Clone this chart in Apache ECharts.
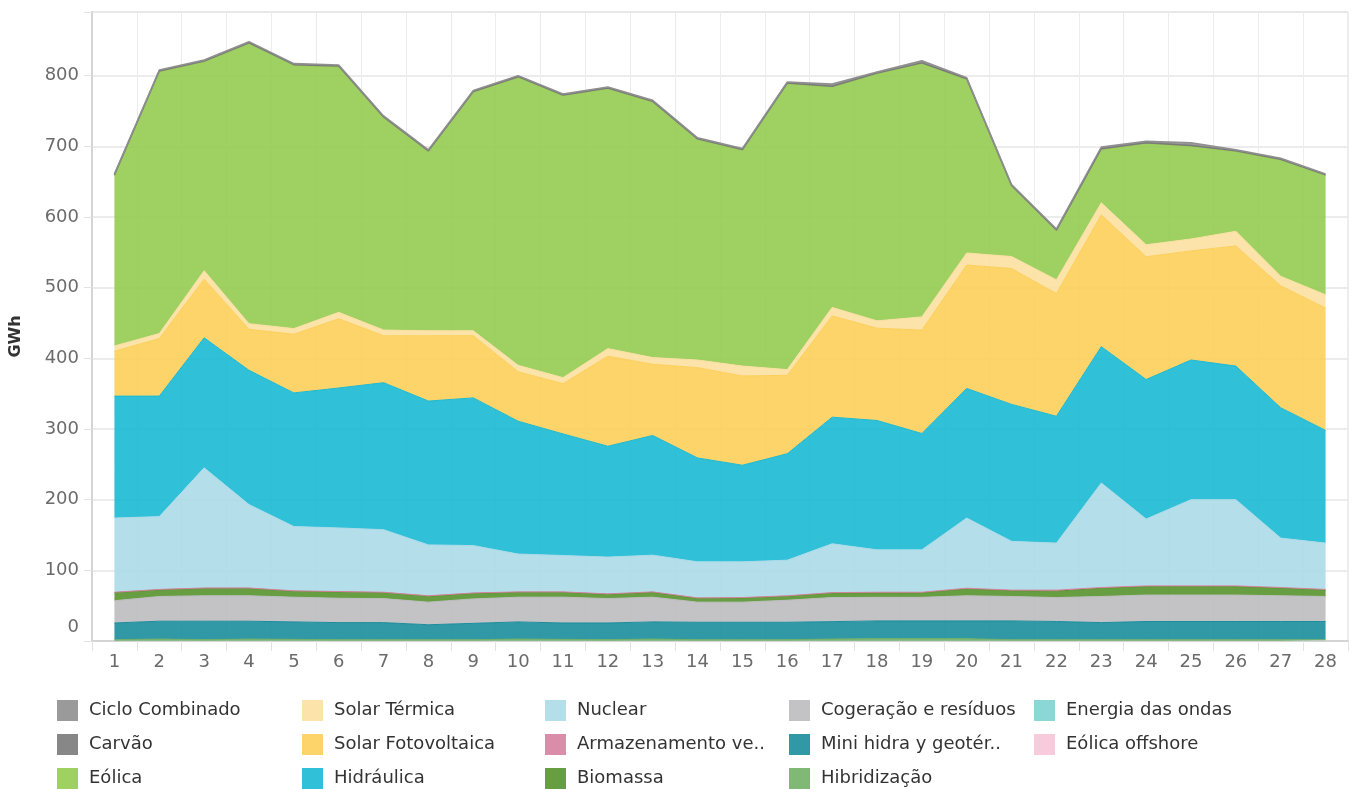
<!DOCTYPE html>
<html>
<head>
<meta charset="utf-8">
<script src="https://cdn.jsdelivr.net/npm/echarts@6/dist/echarts.min.js"></script>
<style>
html,body{margin:0;padding:0;background:#fff;}
#chart{width:1354px;height:789px;}
</style>
</head>
<body>
<div id="chart"></div>
<script>
// Categories (days)
const categories = ['1','2','3','4','5','6','7','8','9','10','11','12','13','14','15','16','17','18','19','20','21','22','23','24','25','26','27','28'];
const yTicks = [0,100,200,300,400,500,600,700,800];

// Series values (GWh), stacked bottom -> top
const eolicaOffshore = [0,0,0,0,0,0,0,0,0,0,0,0,0,0,0,0,0,0,0,0,0,0,0,0,0,0,0,0];
const energiaOndas   = [0.3,0.3,0.3,0.3,0.3,0.3,0.3,0.3,0.3,0.3,0.3,0.3,0.3,0.3,0.3,0.3,0.3,0.3,0.3,0.3,0.3,0.3,0.3,0.3,0.3,0.3,0.3,0.3];
const hibridizacao   = [1.5,2.5,1.5,2.5,2,1.5,1.5,1.5,1.5,2.5,2,1.5,2.5,1.5,1.5,1.5,2.5,3,3,3,1.5,1.5,1.5,1.5,1.5,1.5,1.5,1.5];
const miniHidra      = [23.7,25.2,26.2,25.2,24.7,24.2,24.2,21.2,23.2,24.2,23.2,23.7,24.2,24.7,24.7,24.7,24.6,25.1,25.1,25.1,26.6,25.8,24.2,25.8,25.8,25.8,25.8,25.8];
const cogeracao      = [31.5,35,36,36,35,34.5,34,32,34.6,35,36.5,34.5,35,28.5,28.5,31.2,34.1,33.4,33.4,35.6,34.6,33.9,37,37.4,37.4,37.4,36.4,35.4];
const biomassa       = [11.4,9.4,10.4,10.4,8.4,8.9,8.4,8.4,7.8,6.9,6.9,6.1,6.9,5.4,5.9,5.7,6.4,6.4,6.4,9.7,8.2,9,11.7,12,12,12,10.9,9.2];
const armazenamento  = [0.6,0.6,0.6,0.6,0.6,0.6,0.6,0.6,0.6,0.6,0.6,0.6,0.6,0.6,0.6,0.6,0.6,0.8,0.8,1,0.8,1.5,1,1,1,1,0.8,0.8];
const nuclear        = [105,103,170,118,91,90,88.5,72,67,53.5,51.5,52,52,51,50.5,50.4,69.1,60,60,99.3,69,66.5,147.9,94.6,122,122,69.9,65.5];
const hidraulica     = [172.5,170.5,184,190,189,198,208,203.5,209,188,172,156.9,169.3,147,136.7,150.6,179.1,183,164.6,183.4,193.8,179.5,192.9,197.4,197.6,189,184.4,159.5];
const solarFV        = [63.5,81.5,83,58,83,98,66.5,92.5,88,70,71,127.4,100.7,127.8,126.3,111,143.3,130.6,146.4,174.6,192.2,173.7,186.5,173.7,154.4,170,172.6,173];
const solarTermica   = [7.5,7,12,8,8,9,8,7,7,9,8.6,10.7,9.5,10.8,14,8,12,10.4,18.6,17,17,19.3,17,17,16.8,20.7,13.4,18.8];
const eolica         = [241,370.5,295.5,396.5,372.5,347.5,300.5,253.5,337.5,407.5,398.9,367.8,361.5,311.9,305.5,404.5,312,349.5,358.4,245.5,99.5,69.5,75.5,143.3,131.2,112.8,164.5,168.7];
const carvao         = [1,1,1,1,1,1,1,1,1,1,1,1,1,1,1,1,1,1,1,1,1,1,1,1,1,1,1,1];
const cicloCombinado = [1.5,1.5,1.5,1.5,1.5,1.5,1.5,1.5,1.5,1.5,1.5,1.5,1.5,1.5,1.5,1.5,3,1.5,3,1.5,1.5,1.5,2.5,2,4,1.5,1.5,1.5];

const FONT = 'DejaVu Sans';

// stacking order bottom -> top
const layers = [
  {name:'Eólica offshore', data:eolicaOffshore, color:'#f7c5d8', line:0},
  {name:'Energia das ondas', data:energiaOndas, color:'#7dd3d2', line:0},
  {name:'Hibridização', data:hibridizacao, color:'#72b066', line:1},
  {name:'Mini hidra y geotér..', data:miniHidra, color:'#1b8d9c', line:1},
  {name:'Cogeração e resíduos', data:cogeracao, color:'#bdbdc0', line:1},
  {name:'Biomassa', data:biomassa, color:'#56932d', line:1},
  {name:'Armazenamento ve..', data:armazenamento, color:'#d5819f', line:1},
  {name:'Nuclear', data:nuclear, color:'#acdbe8', line:1},
  {name:'Hidráulica', data:hidraulica, color:'#19b9d4', line:1},
  {name:'Solar Fotovoltaica', data:solarFV, color:'#fccf59', line:1},
  {name:'Solar Térmica', data:solarTermica, color:'#fce0a1', line:1},
  {name:'Eólica', data:eolica, color:'#95cb51', line:1},
  {name:'Carvão', data:carvao, color:'#7a7a7a', line:1.5},
  {name:'Ciclo Combinado', data:cicloCombinado, color:'#8f8f8f', line:1.5}
];

const legendCols = [
  ['Ciclo Combinado','Carvão','Eólica'],
  ['Solar Térmica','Solar Fotovoltaica','Hidráulica'],
  ['Nuclear','Armazenamento ve..','Biomassa'],
  ['Cogeração e resíduos','Mini hidra y geotér..','Hibridização'],
  ['Energia das ondas','Eólica offshore']
];
const legendLeft = [57, 302, 545, 789, 1034];

const chart = echarts.init(document.getElementById('chart'), null, {renderer:'canvas'});

const series = layers.map(l => ({
  name: l.name,
  type: 'line',
  stack: 'total',
  data: l.data,
  showSymbol: false,
  symbol: 'none',
  smooth: false,
  itemStyle: {color: l.color},
  lineStyle: {width: l.line, color: l.color},
  areaStyle: {color: l.color, opacity: 0.9},
  emphasis: {disabled: true}
}));

const legends = legendCols.map((items, i) => ({
  orient: 'vertical',
  left: legendLeft[i],
  top: 700,
  height: 120,
  padding: 0,
  itemWidth: 21,
  itemHeight: 21,
  itemGap: 13,
  icon: 'rect',
  selectedMode: false,
  data: items,
  itemStyle: {opacity: 0.9},
  textStyle: {fontFamily: FONT, fontSize: 18, color: '#333', padding: [0,0,0,6]}
}));

chart.setOption({
  animation: false,
  backgroundColor: '#fff',
  grid: {left: 90, right: 6, top: 12, bottom: 148, show: true, borderColor: '#dcdcdc', borderWidth: 1},
  legend: legends,
  xAxis: {
    type: 'category',
    data: categories,
    boundaryGap: true,
    axisLine: {show: true, lineStyle: {color: '#d4d4d4', width: 2}},
    axisTick: {show: true, interval: 0, length: 10, lineStyle: {color: '#e3e3e3'}},
    axisLabel: {interval: 0, color: '#6b6b6b', fontFamily: FONT, fontSize: 18, margin: 12},
    splitLine: {show: true, interval: 0, lineStyle: {color: '#ececec', width: 1}}
  },
  yAxis: {
    type: 'value',
    min: 0,
    max: 890,
    interval: 100,
    name: 'GWh',
    nameLocation: 'middle',
    nameGap: 68,
    nameRotate: 90,
    nameTextStyle: {fontFamily: FONT, fontSize: 16, fontWeight: 'bold', color: '#333', padding: [0,0,0,-20]},
    axisLine: {show: true, lineStyle: {color: '#d4d4d4', width: 2}},
    axisTick: {show: true, length: 8, lineStyle: {color: '#e3e3e3'}},
    axisLabel: {
      color: '#6b6b6b', fontFamily: FONT, fontSize: 18, margin: 13,
      formatter: v => (yTicks.indexOf(v) < 0 ? '' : (v === 0 ? '{z|0}' : String(v))),
      rich: {z: {fontFamily: FONT, fontSize: 18, color: '#6b6b6b', padding: [0,0,28,0]}}
    },
    splitLine: {show: true, lineStyle: {color: '#e6e6e6', width: 1.5}}
  },
  series: series
});
</script>
</body>
</html>
